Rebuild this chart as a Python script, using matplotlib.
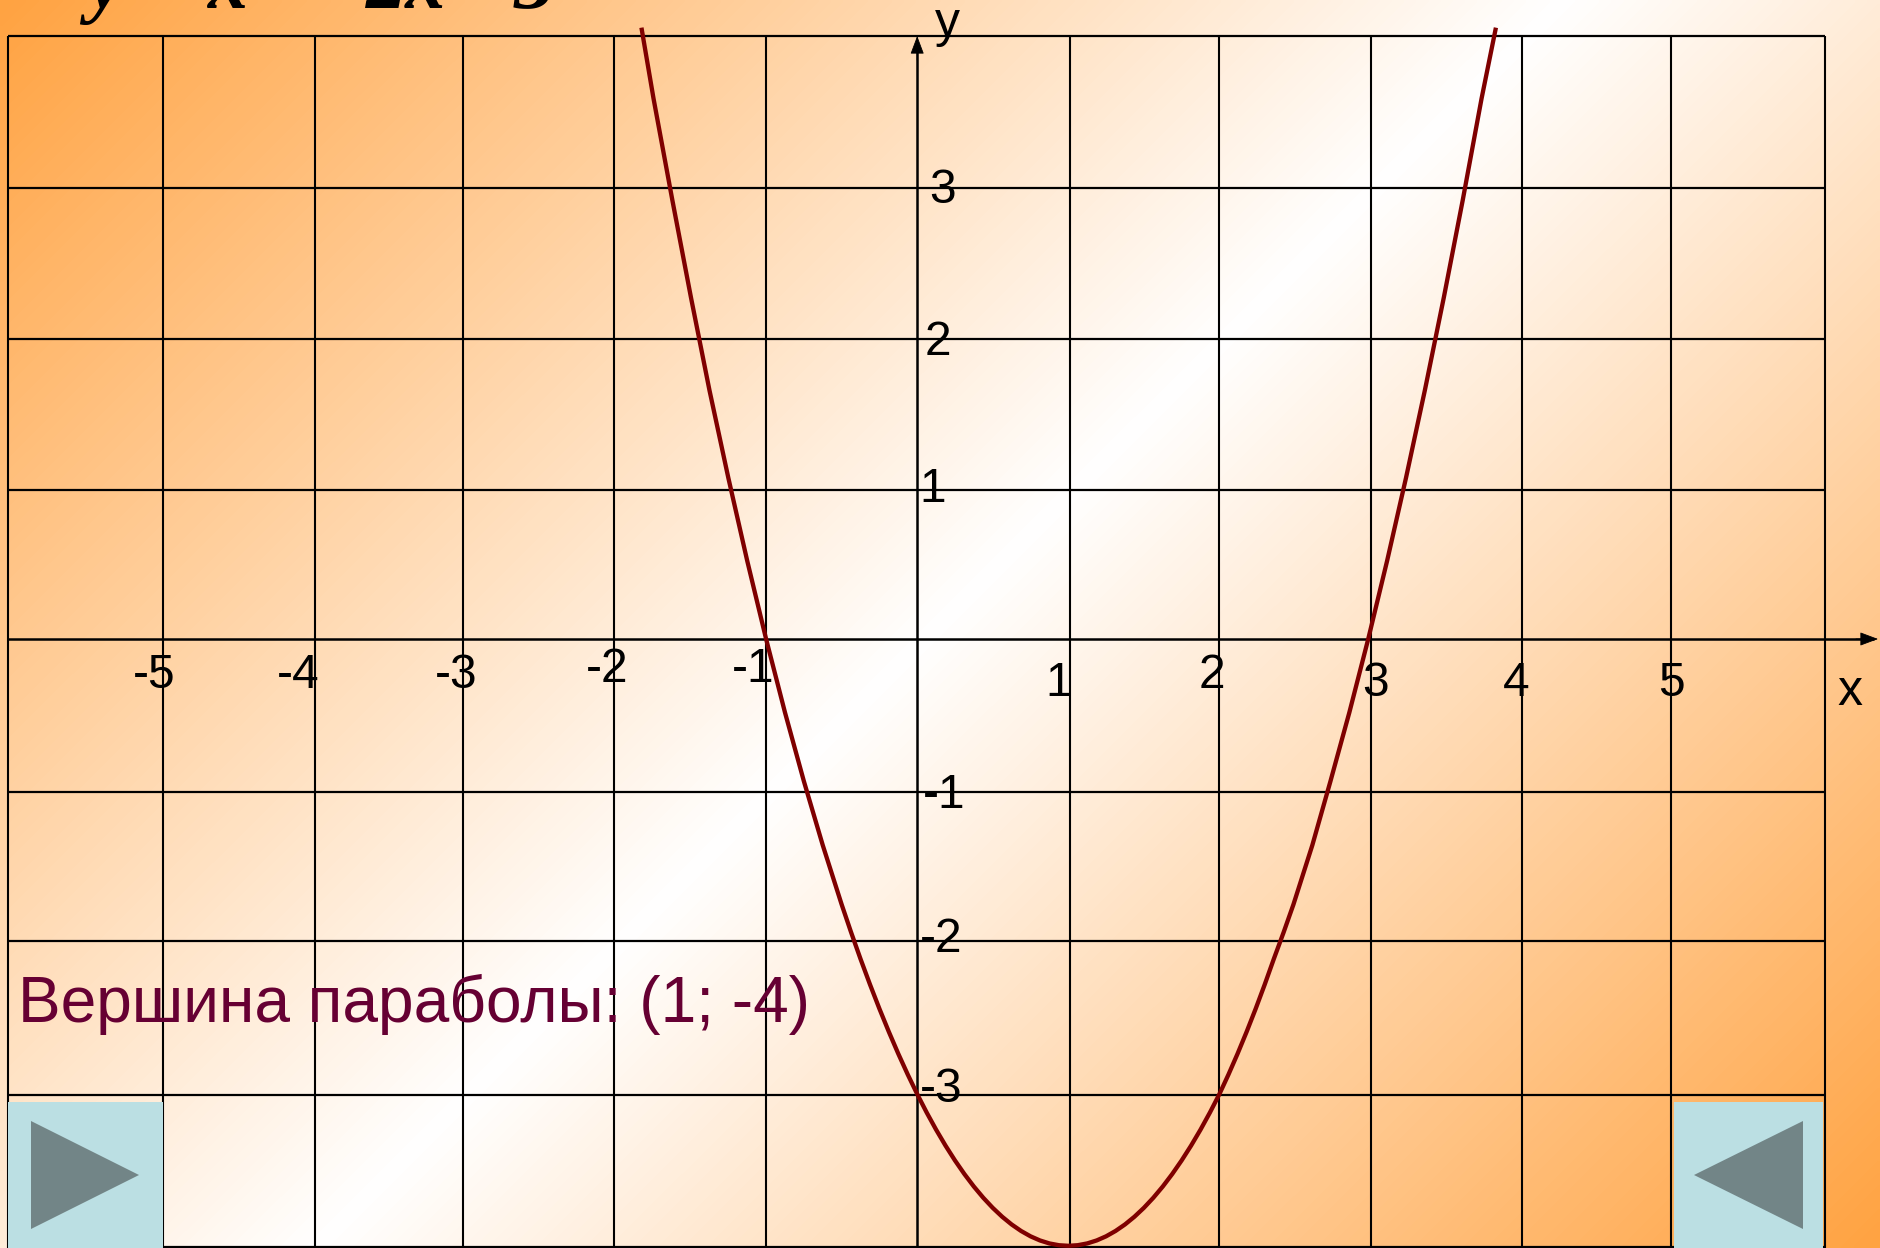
import numpy as np
import matplotlib
matplotlib.use("Agg")
import matplotlib.pyplot as plt
from matplotlib.colors import LinearSegmentedColormap

W, H = 1880, 1248

grid_x = [-6.016, -4.99, -3.985, -3.005, -2.006, -1.0, 1.01, 2.0, 3.0, 4.0, 4.99, 6.01]
grid_y = [3.975, 2.973, 1.978, 0.982, -1.009, -1.991, -3.006, -4.008]

curve_x = [-1.825, -1.745, -1.62, -1.497, -1.375, -1.25, -1.125, -1.0, -0.875, -0.75, -0.625, -0.5,
           -0.4375, -0.375, -0.3125, -0.25, -0.1875, -0.125, -0.0625, 0.0, 0.0625, 0.125, 0.1875, 0.25,
           0.3125, 0.375, 0.4375, 0.5, 0.5625, 0.625, 0.6875, 0.75, 0.8125, 0.875, 0.9375, 1.0,
           1.0625, 1.125, 1.1875, 1.25, 1.3125, 1.375, 1.4375, 1.5, 1.5625, 1.625, 1.6875, 1.75,
           1.8125, 1.875, 1.9375, 2.0, 2.06, 2.12, 2.18, 2.24, 2.30, 2.36, 2.425, 2.49,
           2.615, 2.735, 2.86, 2.985, 3.11, 3.235, 3.36, 3.485, 3.61, 3.735, 3.83]
curve_y = [4.03, 3.5625, 2.8906, 2.25, 1.6406, 1.0625, 0.5156, 0.0, -0.4844, -0.9375, -1.3594, -1.75,
           -1.9336, -2.1094, -2.2773, -2.4375, -2.5898, -2.7344, -2.8711, -3.0, -3.1211, -3.2344, -3.3398, -3.4375,
           -3.5273, -3.6094, -3.6836, -3.75, -3.8086, -3.8594, -3.9023, -3.9375, -3.9648, -3.9844, -3.9961, -4.0,
           -3.9961, -3.9844, -3.9648, -3.9375, -3.9023, -3.8594, -3.8086, -3.75, -3.6836, -3.6094, -3.5273, -3.4375,
           -3.3398, -3.2344, -3.1211, -3.0, -2.8711, -2.7344, -2.5898, -2.4375, -2.2773, -2.1094, -1.9336, -1.75,
           -1.3594, -0.9375, -0.4844, 0.0, 0.5156, 1.0625, 1.6406, 2.25, 2.8906, 3.5625, 4.03]

x_tick_values = [-5, -4, -3, -2, -1, 1, 2, 3, 4, 5]
x_tick_labels = ["-5", "-4", "-3", "-2", "-1", "1", "2", "3", "4", "5"]
y_tick_values = [3, 2, 1, -1, -2, -3]
y_tick_labels = ["3", "2", "1", "-1", "-2", "-3"]
note_text = "Вершина параболы: (1; -4)"

X0, Y0, UX, UY = 917.2, 639.0, 151.1, 151.7
fig = plt.figure(figsize=(W / 100, H / 100), dpi=100)
ax = fig.add_axes([0, 0, 1, 1])
xlim = (-X0 / UX, (W - X0) / UX)
ylim = (-(H - Y0) / UY, Y0 / UY)
ax.set_xlim(*xlim)
ax.set_ylim(*ylim)
ax.axis("off")

# background: orange - white - orange diagonal gradient
cmap = LinearSegmentedColormap.from_list("bg", ["#FFA342", "#FFFFFF", "#FFA342"])
px, py = np.meshgrid(np.linspace(0, 1, 470), np.linspace(0, 1, 312))
t = (px * W + py * H) / (W + H)
ax.imshow(t, cmap=cmap, vmin=0, vmax=1, extent=(*xlim, ylim[0], ylim[1]), origin="upper",
          aspect="auto", interpolation="bilinear", zorder=0)

ax.vlines(grid_x, ylim[0], 3.975, color="black", lw=1.5, zorder=2)
ax.hlines(grid_y, -6.016, 6.01, color="black", lw=1.6, zorder=2)
ax.hlines(0, xlim[0] + 8 / UX, xlim[1] - 6 / UX, color="black", lw=1.8, zorder=2)
ax.vlines(0, ylim[0], 3.9, color="black", lw=1.8, zorder=2)
arrow = dict(arrowstyle="-|>,head_length=1.15,head_width=0.43", color="black", lw=0.6, shrinkA=0, shrinkB=0)
ax.annotate("", xy=(xlim[1] - 2 / UX, 0), xytext=(xlim[1] - 24 / UX, 0), arrowprops=arrow, zorder=3)
ax.annotate("", xy=(0, 3.975), xytext=(0, 3.975 - 24 / UY), arrowprops=arrow, zorder=3)

ax.plot(curve_x, curve_y, color="#7F0000", lw=3.1, zorder=4, solid_capstyle="butt")

font = "Liberation Sans"
x_off = [(-8, -36), (-15, -36), (-8, -36), (-8, -30), (-13, -30), (-10, -45), (-8, -37), (5, -45), (-5, -45), (-1, -45)]
for v, s, o in zip(x_tick_values, x_tick_labels, x_off):
    ax.annotate(s, xy=(v, 0), xytext=o, textcoords="offset pixels", ha="center", va="center",
                family=font, fontsize=34.5, color="black", zorder=5)
y_off = [(25, -7), (21, -7), (15, -2), (27, -5), (24, 3), (24, 5)]
for v, s, o in zip(y_tick_values, y_tick_labels, y_off):
    ax.annotate(s, xy=(0, v), xytext=o, textcoords="offset pixels", ha="center", va="center",
                family=font, fontsize=34.5, color="black", zorder=5)
ax.annotate("y", xy=(0, 0), xytext=(30, 639 - 24), textcoords="offset pixels", ha="center", va="center",
            family=font, fontsize=36, zorder=5)
ax.annotate("x", xy=(0, 0), xytext=(1850 - X0, 639 - 692), textcoords="offset pixels", ha="center", va="center",
            family=font, fontsize=36, zorder=5)

ax.annotate(note_text, xy=(0, 0), xytext=(18 - X0, Y0 - 1022), textcoords="offset pixels", ha="left",
            va="baseline", family=font, fontsize=46.05, color="#660033", zorder=6)

# formula, mostly cut by the top edge
for s, px_x in [("y", 87), ("x", 208), ("2x", 366), ("3", 514)]:
    fig.text(px_x / W, 1 - 8 / H, s, family="Liberation Serif", style="italic", weight="bold",
             fontsize=58, color="black", ha="left", va="baseline")

# navigation buttons
for bx0, bx1, tri in [(8, 163, [(31, 1121), (31, 1229), (139, 1175)]),
                      (1674, 1823, [(1803, 1121), (1803, 1229), (1694, 1175)])]:
    fig.patches.append(plt.Rectangle((bx0 / W, 0), (bx1 - bx0) / W, (H - 1102) / H, transform=fig.transFigure,
                                     facecolor="#BBDFE3", edgecolor="none", zorder=7, figure=fig))
    fig.patches.append(plt.Polygon([(a / W, 1 - b / H) for a, b in tri], transform=fig.transFigure,
                                   facecolor="#728587", edgecolor="none", zorder=8, figure=fig))

fig.savefig("out.png", dpi=100)
